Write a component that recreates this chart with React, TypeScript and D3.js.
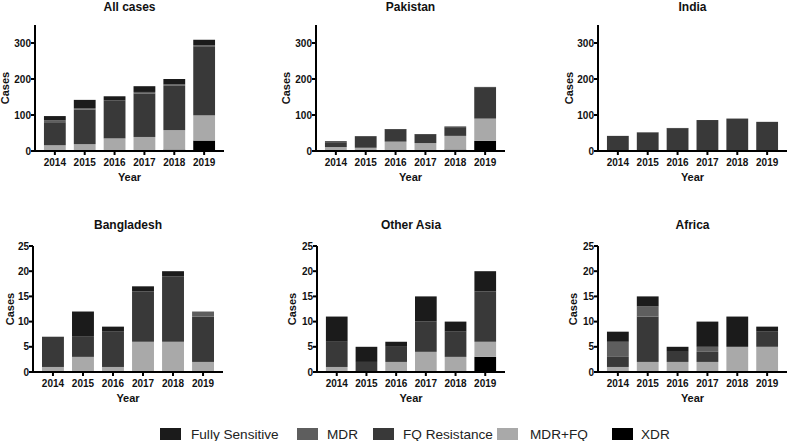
import React from "react";
import * as d3 from "d3";

const years = ["2014", "2015", "2016", "2017", "2018", "2019"];
const seriesNames = ["Fully Sensitive", "MDR", "FQ Resistance", "MDR+FQ", "XDR"];
const seriesColors = ["#1b1b1b", "#5e5e5e", "#393939", "#a9a9a9", "#000000"];

// All cases
const allFS = [12, 23, 12, 16, 15, 15];
const allMDR = [5, 4, 1, 4, 4, 3];
const allFQ = [64, 96, 104, 121, 123, 192];
const allMDRFQ = [16, 19, 35, 39, 54, 70];
const allXDR = [0, 0, 0, 0, 4, 29];

// Pakistan
const pakFS = [3, 2, 2, 2, 2, 2];
const pakMDR = [0, 0, 0, 0, 0, 0];
const pakFQ = [13, 30, 33, 23, 24, 86];
const pakMDRFQ = [11, 9, 26, 22, 38, 62];
const pakXDR = [0, 0, 0, 0, 4, 28];

// India
const indFS = [0, 1, 2, 0, 1, 0];
const indMDR = [0, 0, 0, 0, 0, 0];
const indFQ = [42, 50, 62, 86, 89, 81];
const indMDRFQ = [0, 1, 0, 0, 0, 0];
const indXDR = [0, 0, 0, 0, 0, 0];

// Bangladesh
const banFS = [0, 5, 1, 1, 1, 0];
const banMDR = [0, 0, 0, 0, 0, 1];
const banFQ = [6, 4, 7, 10, 13, 9];
const banMDRFQ = [1, 3, 1, 6, 6, 2];
const banXDR = [0, 0, 0, 0, 0, 0];

// Other Asia
const oasFS = [5, 3, 1, 5, 2, 4];
const oasMDR = [0, 0, 0, 0, 0, 0];
const oasFQ = [5, 2, 3, 6, 5, 10];
const oasMDRFQ = [1, 0, 2, 4, 3, 3];
const oasXDR = [0, 0, 0, 0, 0, 3];

// Africa
const afrFS = [2, 2, 1, 5, 6, 1];
const afrMDR = [3, 2, 0, 1, 0, 0];
const afrFQ = [2, 9, 2, 2, 0, 3];
const afrMDRFQ = [1, 2, 2, 2, 5, 5];
const afrXDR = [0, 0, 0, 0, 0, 0];

const topTicks = [0, 100, 200, 300];
const bottomTicks = [0, 5, 10, 15, 20, 25];

// stacking order bottom -> top
const stackKeys = ["XDR", "MDR+FQ", "FQ Resistance", "MDR", "Fully Sensitive"];

function buildRows(fs: number[], mdr: number[], fq: number[], mdrfq: number[], xdr: number[]) {
  return years.map((y, i) => ({
    year: y,
    "Fully Sensitive": fs[i],
    MDR: mdr[i],
    "FQ Resistance": fq[i],
    "MDR+FQ": mdrfq[i],
    XDR: xdr[i],
  }));
}

const FONT = "'Liberation Sans', Arial, Helvetica, sans-serif";

type PanelProps = {
  title: string;
  rows: any[];
  axisX: number;
  axisEnd: number;
  y0: number;
  yTop: number;
  titleY: number;
  max: number;
  ticks: number[];
  labelOffset: number;
};

function Panel(p: PanelProps) {
  const x = d3
    .scaleBand<string>()
    .domain(years)
    .range([p.axisX, p.axisEnd])
    .paddingInner(0.27)
    .paddingOuter(0.3);
  const y = d3.scaleLinear().domain([0, p.max]).range([p.y0, p.yTop]);
  const stack = d3.stack<any>().keys(stackKeys);
  const layers = stack(p.rows);
  const colorOf = (k: string) => seriesColors[seriesNames.indexOf(k)];
  const midX = (p.axisX + p.axisEnd) / 2;
  const midY = (p.y0 + p.yTop) / 2;
  return (
    <g>
      <text
        x={midX}
        y={p.titleY}
        textAnchor="middle"
        fontFamily={FONT}
        fontWeight="bold"
        fontSize={12}
        fill="#111"
      >
        {p.title}
      </text>
      {layers.map((layer) => (
        <g key={layer.key} fill={colorOf(layer.key)}>
          {layer.map((d, i) =>
            d[1] - d[0] > 0 ? (
              <rect
                key={i}
                x={x(years[i])}
                width={x.bandwidth()}
                y={y(d[1])}
                height={y(d[0]) - y(d[1])}
              />
            ) : null
          )}
        </g>
      ))}
      {/* y axis */}
      <line x1={p.axisX} x2={p.axisX} y1={p.yTop} y2={p.y0 + 1} stroke="#000" strokeWidth={2} />
      {p.ticks.map((t) => (
        <g key={t}>
          <line x1={p.axisX - 4} x2={p.axisX} y1={y(t)} y2={y(t)} stroke="#000" strokeWidth={2} />
          <text
            x={p.axisX - 4}
            y={y(t)}
            dy="0.35em"
            textAnchor="end"
            fontFamily={FONT}
            fontWeight="bold"
            fontSize={10}
            fill="#111"
          >
            {t}
          </text>
        </g>
      ))}
      {/* x axis */}
      <line x1={p.axisX - 1} x2={p.axisEnd} y1={p.y0} y2={p.y0} stroke="#000" strokeWidth={2} />
      {years.map((yr) => {
        const cx = (x(yr) as number) + x.bandwidth() / 2;
        return (
          <g key={yr}>
            <line x1={cx} x2={cx} y1={p.y0} y2={p.y0 + 4} stroke="#000" strokeWidth={2} />
            <text
              x={cx}
              y={p.y0 + 15}
              textAnchor="middle"
              fontFamily={FONT}
              fontWeight="bold"
              fontSize={10}
              fill="#111"
            >
              {yr}
            </text>
          </g>
        );
      })}
      <text
        x={midX}
        y={p.y0 + 30}
        textAnchor="middle"
        fontFamily={FONT}
        fontWeight="bold"
        fontSize={11}
        fill="#111"
      >
        Year
      </text>
      <text
        transform={`translate(${p.axisX - p.labelOffset},${midY}) rotate(-90)`}
        textAnchor="middle"
        dy="0.35em"
        fontFamily={FONT}
        fontWeight="bold"
        fontSize={11}
        fill="#111"
      >
        Cases
      </text>
    </g>
  );
}

const legendSquareX = [160, 297, 373, 497, 612];
const legendTextX = [191, 327, 403, 530, 641];

export default function App() {
  const panels: PanelProps[] = [
    { title: "All cases", rows: buildRows(allFS, allMDR, allFQ, allMDRFQ, allXDR), axisX: 35, axisEnd: 224, y0: 151, yTop: 25, titleY: 10.5, max: 350, ticks: topTicks, labelOffset: 30 },
    { title: "Pakistan", rows: buildRows(pakFS, pakMDR, pakFQ, pakMDRFQ, pakXDR), axisX: 316, axisEnd: 505, y0: 151, yTop: 25, titleY: 10.5, max: 350, ticks: topTicks, labelOffset: 30 },
    { title: "India", rows: buildRows(indFS, indMDR, indFQ, indMDRFQ, indXDR), axisX: 598, axisEnd: 787, y0: 151, yTop: 25, titleY: 10.5, max: 350, ticks: topTicks, labelOffset: 29 },
    { title: "Bangladesh", rows: buildRows(banFS, banMDR, banFQ, banMDRFQ, banXDR), axisX: 33, axisEnd: 223, y0: 372, yTop: 246, titleY: 229, max: 25, ticks: bottomTicks, labelOffset: 23 },
    { title: "Other Asia", rows: buildRows(oasFS, oasMDR, oasFQ, oasMDRFQ, oasXDR), axisX: 317, axisEnd: 505, y0: 372, yTop: 246, titleY: 229, max: 25, ticks: bottomTicks, labelOffset: 25 },
    { title: "Africa", rows: buildRows(afrFS, afrMDR, afrFQ, afrMDRFQ, afrXDR), axisX: 598, axisEnd: 787, y0: 372, yTop: 246, titleY: 229, max: 25, ticks: bottomTicks, labelOffset: 25 },
  ];
  return (
    <svg
      width={787}
      height={441}
      style={{ position: "absolute", left: 0, top: 0, background: "#fff" }}
    >
      <rect width={787} height={441} fill="#fff" />
      {panels.map((p) => (
        <Panel key={p.title} {...p} />
      ))}
      {seriesNames.map((name, i) => (
        <g key={name}>
          <rect x={legendSquareX[i]} y={428} width={21} height={12} fill={seriesColors[i]} />
          <text x={legendTextX[i]} y={439} fontFamily={FONT} fontSize={13.6} fill="#222">
            {name}
          </text>
        </g>
      ))}
    </svg>
  );
}
